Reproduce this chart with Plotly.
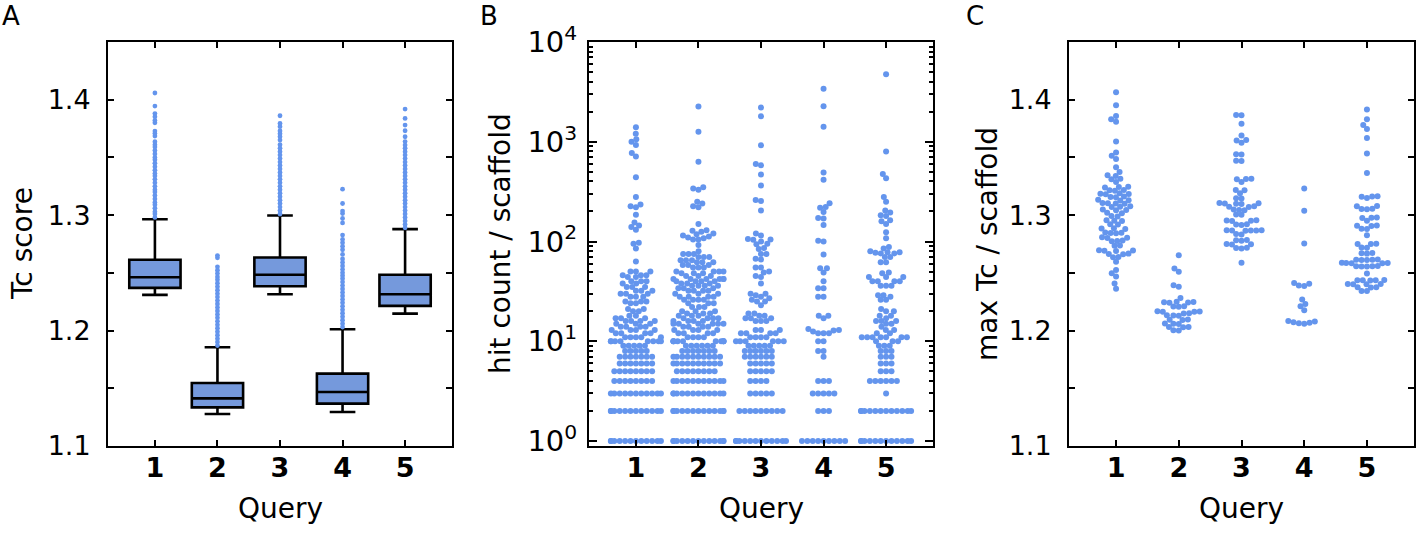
import numpy as np
import plotly.graph_objects as go

W, H = 1417, 538
FONT = "DejaVu Sans"
BLUE = "#6495ED"
BOXFILL = "#7599DC"

queries = [1, 2, 3, 4, 5]
query_labels = ["1", "2", "3", "4", "5"]

# ---------------- Panel A: Tc score box plots ----------------
box_q1 = [1.2370, 1.1335, 1.2384, 1.1367, 1.2214]
box_median = [1.2462, 1.1413, 1.2483, 1.1468, 1.2315]
box_q3 = [1.2613, 1.1546, 1.2633, 1.1627, 1.2483]
box_low = [1.2309, 1.1277, 1.2315, 1.1295, 1.2147]
box_high = [1.2965, 1.1855, 1.2997, 1.2012, 1.2879]

out_q1 = [1.298, 1.301, 1.303, 1.306, 1.309, 1.311, 1.314, 1.317, 1.320, 1.322,
          1.325, 1.328, 1.331, 1.334, 1.336, 1.339, 1.342, 1.345, 1.348, 1.350,
          1.353, 1.356, 1.359, 1.361, 1.3636, 1.3685, 1.3708, 1.3728, 1.380,
          1.382, 1.3853, 1.388, 1.3945, 1.4058]
out_q2 = [1.187, 1.190, 1.193, 1.196, 1.199, 1.202, 1.205, 1.208, 1.211, 1.214,
          1.217, 1.220, 1.223, 1.226, 1.229, 1.232, 1.235, 1.238, 1.241, 1.244,
          1.2465, 1.2495, 1.2523, 1.2552, 1.263, 1.265]
out_q3 = [1.301, 1.304, 1.307, 1.310, 1.313, 1.316, 1.319, 1.322, 1.325, 1.328,
          1.331, 1.334, 1.337, 1.340, 1.343, 1.346, 1.349, 1.352, 1.355, 1.358,
          1.361, 1.365, 1.368, 1.3705, 1.373, 1.3766, 1.3795, 1.3861]
out_q4 = [1.203, 1.206, 1.209, 1.212, 1.215, 1.218, 1.221, 1.224, 1.227, 1.230,
          1.233, 1.236, 1.239, 1.242, 1.245, 1.2475, 1.250, 1.253, 1.256, 1.259,
          1.262, 1.266, 1.270, 1.273, 1.276, 1.279, 1.2827, 1.2933, 1.2971,
          1.3014, 1.3035, 1.3101, 1.3225]
out_q5 = [1.289, 1.292, 1.295, 1.298, 1.301, 1.304, 1.307, 1.310, 1.313, 1.316,
          1.319, 1.322, 1.325, 1.328, 1.331, 1.334, 1.337, 1.340, 1.343, 1.346,
          1.349, 1.352, 1.355, 1.358, 1.3607, 1.3637, 1.3679, 1.3731, 1.378,
          1.3838, 1.3919]
outliers = [out_q1, out_q2, out_q3, out_q4, out_q5]

# ---------------- Panel B: hit count per scaffold ----------------
hits_q1 = ([1]*12 + [2]*12 + [3]*11 + [4]*8 + [5]*8 + [6]*7 + [7]*7 + [8]*5 + [9]*5 +
           [10]*8 + [11]*5 + [12]*4 + [13]*4 + [14]*4 + [15]*3 + [16]*4 + [17]*3 +
           [18]*2 + [20]*2 + [21]*2 + [24]*2 + [25]*3 + [28]*3 + [30]*3 + [32]*3 +
           [35]*3 + [38]*2 + [40]*3 + [44]*2 + [46]*3 + [50]*3 +
           [63, 85, 95, 97, 131, 140, 145, 155, 185, 220, 225, 235, 280, 440,
            710, 770, 930, 1000, 1060, 1200, 1400])
hits_q2 = ([1]*13 + [2]*13 + [3]*12 + [4]*11 + [5]*8 + [6]*10 + [7]*10 + [8]*7 + [9]*6 +
           [10]*10 + [11]*4 + [12]*4 + [13]*4 + [14]*4 + [15]*6 + [16]*4 + [17]*4 +
           [18]*3 + [19]*3 + [20]*3 + [22]*3 + [24]*3 + [26]*4 + [28]*4 + [30]*3 +
           [32]*4 + [34]*3 + [36]*4 + [38]*3 + [40]*4 + [42]*6 + [45]*3 + [48]*3 +
           [50]*4 + [55]*3 + [58]*3 + [62]*3 + [65]*3 + [70]*3 + [75]*3 +
           [80, 92, 105, 105, 108, 110, 112, 115, 118, 120, 125, 128, 130, 150,
            220, 225, 250, 240, 330, 340, 350, 630, 1260, 2250])
hits_q3 = ([1]*12 + [2]*9 + [3]*5 + [4]*4 + [5]*5 + [6]*5 + [7]*6 + [8]*6 + [9]*5 +
           [10]*6 + [11]*4 + [12]*4 + [13]*3 + [16]*3 + [17]*3 + [18]*2 + [19]*2 +
           [23, 25, 25, 26, 27, 28, 29, 30, 30, 38, 44, 45, 49, 50, 55, 55, 66, 67,
            75, 75, 84, 86, 94, 95, 100, 104, 105, 106, 115, 120, 205, 255, 260,
            365, 470, 580, 600, 920, 1800, 2200])
hits_q4 = ([1]*9 + [2]*3 + [3]*5 + [4]*3 +
           [7, 8, 8, 10, 10, 12, 12, 12, 12.5, 12.8, 13, 13.3, 17, 18, 18, 28, 28,
            34, 34, 40, 49, 54, 54, 74, 100, 102, 146, 170, 172, 198, 218, 222,
            242, 417, 491, 1416, 2265, 3400])
hits_q5 = ([1]*12 + [2]*12 + [3]*1 + [4]*6 + [5]*3 + [6]*3 + [7]*3 + [8]*3 + [9]*3 +
           [10]*3 + [11]*7 + [12]*2 + [13]*2 + [14, 15, 15, 16, 16, 16, 17, 18, 18,
            20, 20, 21, 26, 26, 28, 29, 29, 36, 36, 36, 40, 40, 40, 40, 44, 44, 44,
            48, 49, 62, 62, 70, 70, 76, 76, 77, 78, 78, 80, 85, 88, 108, 124, 150,
            160, 163, 180, 183, 195, 205, 250, 280, 430, 475, 800, 4750])
hits = [hits_q1, hits_q2, hits_q3, hits_q4, hits_q5]

# ---------------- Panel C: max Tc per scaffold ----------------
maxtc_q1 = [1.4065, 1.3952, 1.3859, 1.3830, 1.3810, 1.3638, 1.3542, 1.3514, 1.3486,
            1.3415, 1.3373, 1.3345, 1.3340, 1.3316, 1.3312, 1.3288, 1.3246, 1.3244,
            1.3240, 1.3218, 1.3215, 1.3212, 1.3189, 1.3186, 1.3183, 1.3180, 1.3161,
            1.3158, 1.3155, 1.3133, 1.3130, 1.3127, 1.3105, 1.3103, 1.3101, 1.3099,
            1.3076, 1.3073, 1.3070, 1.3048, 1.3045, 1.3042, 1.3020, 1.3017, 1.2992,
            1.2989, 1.2955, 1.2952, 1.2949, 1.2921, 1.2918, 1.2887, 1.2884, 1.2881,
            1.2850, 1.2848, 1.2846, 1.2844, 1.2808, 1.2805, 1.2802, 1.2780, 1.2777,
            1.2774, 1.2737, 1.2734, 1.2695, 1.2693, 1.2691, 1.2689, 1.2667, 1.2664,
            1.2661, 1.2638, 1.2635, 1.2596, 1.2525, 1.2497, 1.2469, 1.2407, 1.2362]
maxtc_q2 = [1.2653, 1.2538, 1.2510, 1.2393, 1.2380, 1.2283, 1.2250, 1.2248, 1.2245,
            1.2243, 1.2241, 1.2211, 1.2209, 1.2207, 1.2168, 1.2166, 1.2164, 1.2162,
            1.2150, 1.2148, 1.2133, 1.2131, 1.2129, 1.2095, 1.2093, 1.2091, 1.2061,
            1.2059, 1.2057, 1.2032, 1.2030, 1.2028, 1.2003, 1.2001]
maxtc_q3 = [1.3867, 1.3865, 1.3791, 1.3689, 1.3650, 1.3647, 1.3627, 1.3528, 1.3525,
            1.3472, 1.3469, 1.3316, 1.3314, 1.3312, 1.3288, 1.3218, 1.3215, 1.3189,
            1.3147, 1.3144, 1.3105, 1.3103, 1.3101, 1.3099, 1.3097, 1.3076, 1.3073,
            1.3070, 1.3048, 1.3045, 1.3042, 1.3006, 1.3003, 1.2955, 1.2953, 1.2951,
            1.2949, 1.2921, 1.2918, 1.2915, 1.2870, 1.2869, 1.2868, 1.2867, 1.2866,
            1.2865, 1.2836, 1.2833, 1.2785, 1.2782, 1.2779, 1.2751, 1.2748, 1.2745,
            1.2718, 1.2715, 1.2712, 1.2588]
maxtc_q4 = [1.3231, 1.3038, 1.2754, 1.2413, 1.2405, 1.2390, 1.2387, 1.2269, 1.2231,
            1.2210, 1.2176, 1.2084, 1.2078, 1.2072, 1.2068, 1.2064, 1.2060]
maxtc_q5 = [1.3916, 1.3831, 1.3781, 1.3747, 1.3669, 1.3534, 1.3365, 1.3163, 1.3161,
            1.3159, 1.3149, 1.3079, 1.3077, 1.3056, 1.3054, 1.3052, 1.2980, 1.2978,
            1.2976, 1.2952, 1.2910, 1.2908, 1.2906, 1.2882, 1.2880, 1.2826, 1.2753,
            1.2751, 1.2749, 1.2719, 1.2717, 1.2671, 1.2669, 1.2667, 1.2615, 1.2614,
            1.2613, 1.2612, 1.2611, 1.2587, 1.2586, 1.2585, 1.2584, 1.2583, 1.2559,
            1.2558, 1.2557, 1.2556, 1.2555, 1.2494, 1.2438, 1.2437, 1.2436, 1.2435,
            1.2434, 1.2404, 1.2403, 1.2402, 1.2401, 1.2376, 1.2375, 1.2374, 1.2343,
            1.2342]
maxtc = [maxtc_q1, maxtc_q2, maxtc_q3, maxtc_q4, maxtc_q5]

# ---------------- layout geometry (pixels) ----------------
top_px, bot_px = 42, 446
panels_x = {"A": (108, 452), "B": (589, 933), "C": (1069, 1414)}
XR = [0.25, 5.75]
YR_TC = [1.1, 1.45]
YR_LOG = [-0.05, 4.0]
plot_h = bot_px - top_px


def beeswarm(ypx, d, half_w):
    ypx = np.asarray(ypx, float)
    order = np.argsort(ypx, kind="stable")
    xs = np.zeros(len(ypx))
    px_list, py_list = [], []
    for i in order:
        y = ypx[i]
        neigh = [(px, py) for px, py in zip(px_list, py_list) if abs(py - y) < d]
        cands = [0.0]
        for px, py in neigh:
            dx = np.sqrt(max(d * d - (py - y) ** 2, 0.0))
            cands += [px - dx, px + dx]
        cands.sort(key=lambda c: (round(abs(c), 6), c))
        chosen = cands[-1]
        for c in cands:
            if all((c - px) ** 2 + (y - py) ** 2 >= d * d - 1e-6 for px, py in neigh):
                chosen = c
                break
        xs[i] = chosen
        px_list.append(chosen)
        py_list.append(y)
    return np.clip(xs, -half_w, half_w)


def xdom(p):
    a, b = panels_x[p]
    return [a / W, b / W]


ydom = [(H - bot_px) / H, (H - top_px) / H]

fig = go.Figure()

# Panel A
fig.add_trace(go.Box(
    x=queries, q1=box_q1, median=box_median, q3=box_q3,
    lowerfence=box_low, upperfence=box_high,
    width=0.82, whiskerwidth=0.5, fillcolor=BOXFILL,
    line=dict(color="black", width=2.6), boxpoints=False,
    xaxis="x", yaxis="y", showlegend=False, hoverinfo="skip"))
for q, vals in zip(queries, outliers):
    fig.add_trace(go.Scatter(
        x=[q] * len(vals), y=vals, mode="markers",
        marker=dict(color=BLUE, size=4.8, line=dict(width=0)),
        xaxis="x", yaxis="y", showlegend=False))

D = 5.4
# Panel B
pxu_b = (panels_x["B"][1] - panels_x["B"][0]) / (XR[1] - XR[0])
for q, vals in zip(queries, hits):
    ypx = plot_h * (np.log10(vals) - YR_LOG[0]) / (YR_LOG[1] - YR_LOG[0])
    off = beeswarm(ypx, D, 0.4 * pxu_b)
    fig.add_trace(go.Scatter(
        x=q + off / pxu_b, y=vals, mode="markers",
        marker=dict(color=BLUE, size=6, line=dict(width=0)),
        xaxis="x2", yaxis="y2", showlegend=False))

# Panel C
pxu_c = (panels_x["C"][1] - panels_x["C"][0]) / (XR[1] - XR[0])
for q, vals in zip(queries, maxtc):
    ypx = plot_h * (np.asarray(vals) - YR_TC[0]) / (YR_TC[1] - YR_TC[0])
    off = beeswarm(ypx, D, 0.4 * pxu_c)
    fig.add_trace(go.Scatter(
        x=q + off / pxu_c, y=vals, mode="markers",
        marker=dict(color=BLUE, size=6, line=dict(width=0)),
        xaxis="x3", yaxis="y3", showlegend=False))

tick_font = dict(family=FONT, size=27, color="black")
log_tick_font = dict(family=FONT, size=29, color="black")
xtick_font = dict(family=FONT, size=27, color="black", weight="bold")

common_axis = dict(showline=True, linecolor="black", linewidth=2, mirror="ticks",
                   ticks="inside", ticklen=6, tickwidth=2, tickcolor="black",
                   showgrid=False, zeroline=False, fixedrange=True, automargin=False)

tc_vals = [1.1, 1.2, 1.3, 1.4]
tc_text = ["1.1", "1.2", "1.3", "1.4"]
tc_minor = dict(ticks="inside", ticklen=6, tickwidth=2, tickcolor="black",
                tickmode="array", tickvals=[1.15, 1.25, 1.35, 1.45], showgrid=False)

xaxis_common = dict(common_axis, range=XR, tickmode="array", tickvals=queries,
                    ticktext=query_labels, tickfont=xtick_font, ticklabelstandoff=-3)

layout = dict(
    width=W, height=H, margin=dict(l=0, r=0, t=0, b=0, autoexpand=False),
    paper_bgcolor="white", plot_bgcolor="white", showlegend=False,
    font=dict(family=FONT, color="black"),
    xaxis=dict(xaxis_common, domain=xdom("A"), anchor="y"),
    xaxis2=dict(xaxis_common, domain=xdom("B"), anchor="y2"),
    xaxis3=dict(xaxis_common, domain=xdom("C"), anchor="y3"),
    yaxis=dict(common_axis, domain=ydom, anchor="x", range=YR_TC, tickmode="array",
               tickvals=tc_vals, ticktext=tc_text, tickfont=tick_font,
               ticklabelstandoff=10, minor=tc_minor),
    yaxis3=dict(common_axis, domain=ydom, anchor="x3", range=YR_TC, tickmode="array",
                tickvals=tc_vals, ticktext=tc_text, tickfont=tick_font,
                ticklabelstandoff=10, minor=tc_minor),
    yaxis2=dict(common_axis, domain=ydom, anchor="x2", type="log", range=YR_LOG,
                tickmode="array", tickvals=[1, 10, 100, 1000, 10000],
                ticktext=["10<sup>0</sup>", "10<sup>1</sup>", "10<sup>2</sup>",
                          "10<sup>3</sup>", "10<sup>4</sup>"],
                tickfont=log_tick_font, ticklabelstandoff=4, ticklen=8,
                minor=dict(ticks="inside", ticklen=4, tickwidth=1.5, tickcolor="black",
                           tickmode="array",
                           tickvals=[m * 10 ** e for e in range(4) for m in range(2, 10)],
                           showgrid=False)),
)

annotations = []
for letter, cx in [("A", 11), ("B", 489), ("C", 975)]:
    annotations.append(dict(text=letter, x=cx / W, y=1.0, xref="paper", yref="paper",
                            xanchor="center", yanchor="top", showarrow=False, borderpad=0,
                            font=dict(family=FONT, size=26, color="black")))
for p in ["A", "B", "C"]:
    a, b = panels_x[p]
    annotations.append(dict(text="Query", x=(a + b) / 2 / W, y=1 - 508 / H,
                            xref="paper", yref="paper", xanchor="center", yanchor="middle",
                            showarrow=False, font=dict(family=FONT, size=28, color="black")))
for txt, cx in [("Tc score", 22), ("hit count / scaffold", 500), ("max Tc / scaffold", 987)]:
    annotations.append(dict(text=txt, x=cx / W, y=1 - 244 / H, xref="paper", yref="paper",
                            xanchor="center", yanchor="middle", textangle=-90,
                            showarrow=False, font=dict(family=FONT, size=28, color="black")))
layout["annotations"] = annotations

fig.update_layout(**layout)
fig.write_html("out.html")
